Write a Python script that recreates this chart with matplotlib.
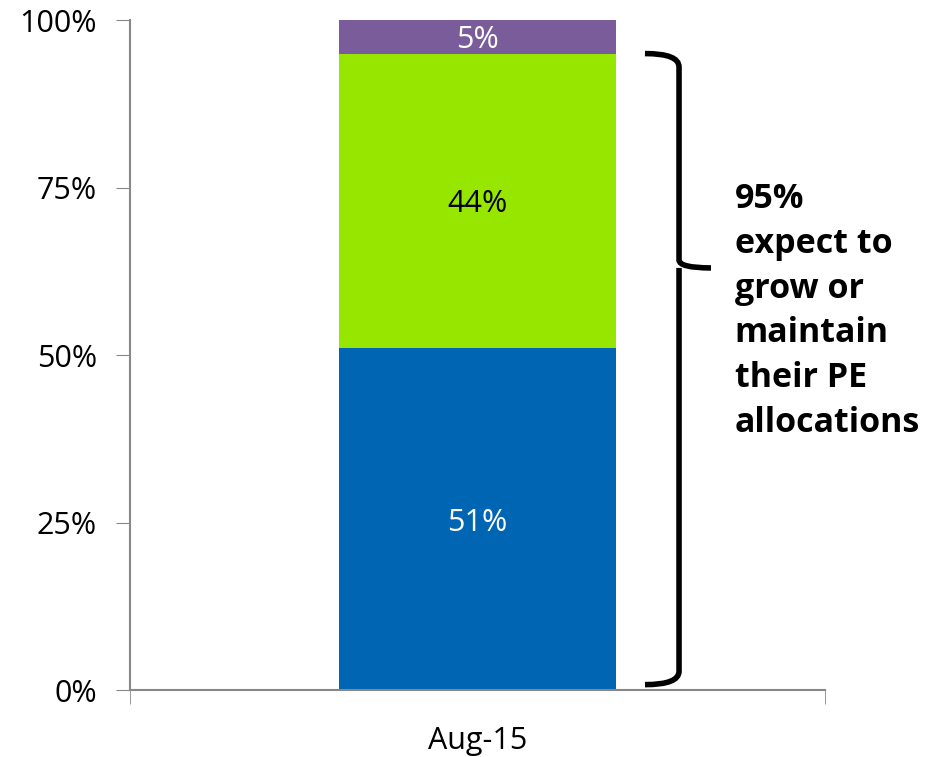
import matplotlib.pyplot as plt
from matplotlib.path import Path
from matplotlib.patches import PathPatch

plt.rcParams['font.family'] = ['Open Sans', 'DejaVu Sans']

category = 'Aug-15'
segments = [51, 44, 5]
seg_colors = ['#0066b3', '#96e600', '#7a5c9a']
label_colors = ['white', 'black', 'white']
yticks = [0, 25, 50, 75, 100]
note = '95%\nexpect to\ngrow or\nmaintain\ntheir PE\nallocations'

fig = plt.figure(figsize=(9.29, 7.57), dpi=100)
ax = fig.add_axes([0.140, 0.0885, 0.748, 0.885])

bottom = 0
for val, col, lc in zip(segments, seg_colors, label_colors):
    ax.bar(0, val, width=0.4, bottom=bottom, color=col)
    ax.text(0, bottom + val / 2, f'{val}%', ha='center', va='center_baseline',
            color=lc, fontsize=22)
    bottom += val

ax.set_xlim(-0.5, 0.5)
ax.set_ylim(0, 100)
ax.set_yticks(yticks)
ax.set_yticklabels([f'{t}%' for t in yticks], fontsize=22)
ax.set_xticks([0])
ax.set_xticklabels([category], fontsize=22)
ax.set_xticks([-0.5, 0.5], minor=True)
ax.tick_params(axis='x', which='major', length=0, pad=26)
ax.tick_params(axis='x', which='minor', length=10, color='#888888', direction='out')
ax.tick_params(axis='y', length=10, color='#888888', pad=14)
for s in ['top', 'right']:
    ax.spines[s].set_visible(False)
for s in ['left', 'bottom']:
    ax.spines[s].set_color('#888888')
    ax.spines[s].set_linewidth(1.5)

# curly bracket from 0% to 95%
top, low, tip = 95, 0.8, 63
x0, x1, x2 = 0.241, 0.290, 0.336
verts = [(x0, top), (x1, top), (x1, top - 2), (x1, tip + 1.2),
         (x1, tip), (x2, tip),
         (x1, tip), (x1, tip - 1.2), (x1, low + 2), (x1, low), (x0, low)]
codes = [Path.MOVETO, Path.CURVE3, Path.CURVE3, Path.LINETO,
         Path.CURVE3, Path.CURVE3,
         Path.MOVETO, Path.LINETO, Path.LINETO, Path.CURVE3, Path.CURVE3]
ax.add_patch(PathPatch(Path(verts, codes), fill=False, lw=4, color='black',
                       clip_on=False, capstyle='butt'))

fig.text(0.791, 0.760, note, fontsize=24.5, fontweight='bold', ha='left',
         va='top', linespacing=1.42)

fig.savefig('out.png', dpi=100)
